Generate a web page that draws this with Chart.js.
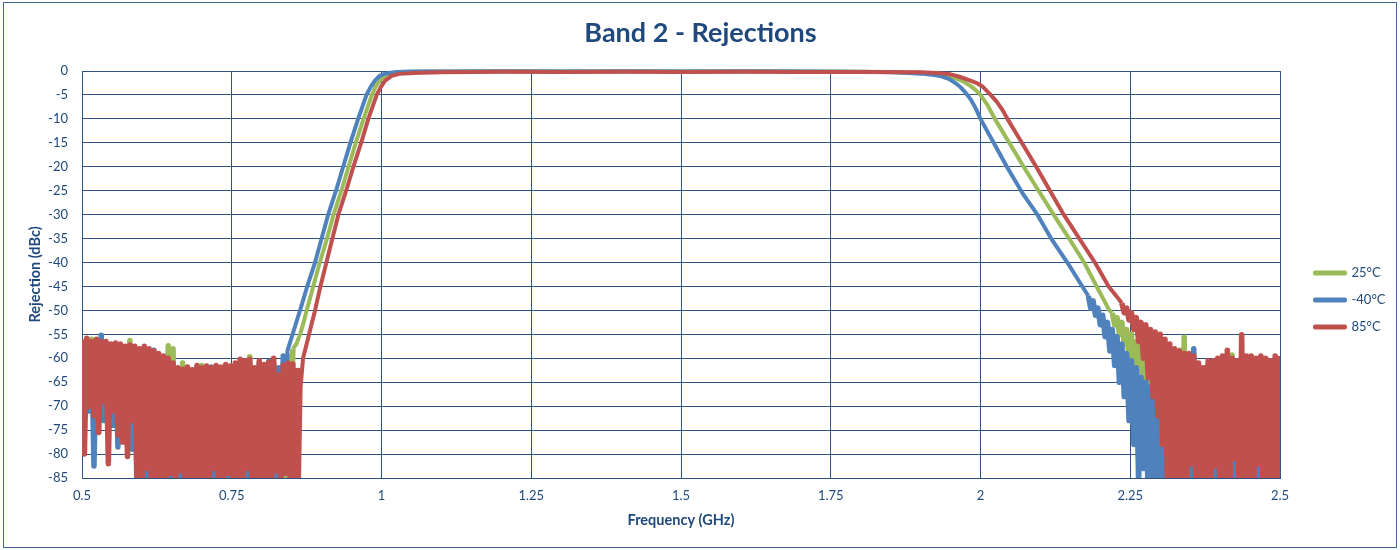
<!DOCTYPE html>
<html>
<head>
<meta charset="utf-8">
<script src="https://cdn.jsdelivr.net/npm/chart.js@4.4.1/dist/chart.umd.min.js"></script>
<style>
html,body{margin:0;padding:0;background:#ffffff;}
#wrap{width:1400px;height:550px;position:relative;}
</style>
</head>
<body>
<div id="wrap"><canvas id="c" width="1400" height="550"></canvas></div>
<script>
// ---------------- data ----------------
const chartTitle = 'Band 2 - Rejections';
const xAxisTitle = 'Frequency (GHz)';
const yAxisTitle = 'Rejection (dBc)';
const seriesNames = ['25°C', '-40°C', '85°C'];
const seriesColors = ['#9BBB59', '#4F81BD', '#C0504D'];
const xTickValues = [0.5, 0.75, 1, 1.25, 1.5, 1.75, 2, 2.25, 2.5];
const xTickLabels = ['0.5', '0.75', '1', '1.25', '1.5', '1.75', '2', '2.25', '2.5'];
const yTickValues = [0, -5, -10, -15, -20, -25, -30, -35, -40, -45, -50, -55, -60, -65, -70, -75, -80, -85];
const yTickLabels = ['0', '-5', '-10', '-15', '-20', '-25', '-30', '-35', '-40', '-45', '-50', '-55', '-60', '-65', '-70', '-75', '-80', '-85'];

// sweep of the stop bands (GHz)
const sweepStepGHz = 0.004;
const lowStopStartGHz = 0.5;

// lower stop band, sampled from 0.5 GHz every 4 MHz (dBc)
const lowStop25 = [
 -57.5,-72.5,-57,-71,-56,-73,-57,-70,-57.5,-72.5,
 -58,-74,-58,-70,-58,-74,-58.5,-72,-58,-78,
 -56.3,-76,-58.5,-84,-59,-90,-58.5,-90,-59,-90,
 -59.5,-90,-60,-90,-60.5,-90,-57.4,-90,-58,-90,
 -62.5,-90,-61,-90,-62.5,-90,-62.5,-90,-62,-90,
 -61.5,-90,-62,-90,-62.5,-90,-62,-90,-62.5,-90,
 -62,-90,-62,-90,-61.5,-90,-61,-90,-61,-90,
 -59.7,-90,-62.5,-90,-61.5,-90,-62,-90,-61.5,-90,
 -61,-90,-62.5,-90,-61,-90,-59.5,-86,-58
];
const lowStopM40 = [
 -57,-67,-57.5,-71,-57,-82.5,-57,-70,-55.2,-73,
 -57.5,-71,-58,-74,-58,-78.5,-58.5,-73,-58.5,-76,
 -59,-79,-59,-90,-59.5,-88,-59.5,-90,-59.5,-90,
 -58.3,-90,-60,-90,-60.5,-90,-61,-90,-61.5,-90,
 -62.5,-90,-62.5,-90,-62.5,-90,-62.5,-90,-62,-90,
 -62.5,-90,-62,-90,-61.8,-90,-62,-90,-62,-90,
 -61.5,-90,-62,-90,-61.5,-90,-61,-90,-61,-90,
 -61,-90,-62.5,-90,-61,-90,-62,-90,-60.6,-90,
 -62,-90,-62,-90,-59.5,-80
];
const lowStop85 = [
 -56,-80,-55.8,-70,-56.5,-72,-56,-75.5,-56.5,-69,
 -56.5,-82,-57,-71,-56.8,-76,-57,-77.5,-57.5,-80.5,
 -57.2,-73,-57.5,-86,-58,-90,-57.5,-83,-58,-90,
 -58.5,-90,-59,-90,-59.5,-90,-60,-84,-61,-90,
 -62,-83.5,-62.3,-90,-61.8,-90,-62.4,-90,-61.5,-90,
 -62,-90,-61.6,-90,-62,-83,-61.5,-90,-61.8,-90,
 -61.3,-84,-61.6,-90,-61,-90,-60.2,-90,-60.5,-83,
 -60.2,-90,-62,-90,-60.5,-90,-61.3,-90,-60.8,-90,
 -60,-83.5,-63.5,-90,-61.5,-84,-61,-90,-61.2,-90,
 -62
];

// skirts and pass band (GHz, dBc)
const band25Freq = [0.858,0.864,0.870,0.875,0.886,0.897,0.909,0.920,0.933,0.945,0.957,0.970,0.977,0.984,0.990,0.997,1.006,1.015,1.027,1.04,1.07,1.15,1.25,1.35,1.45,1.55,1.65,1.75,1.85,1.90,1.925,1.94,1.954,1.968,1.982,1.992,2.000,2.012,2.024,2.036,2.048,2.060,2.072,2.097,2.122,2.148,2.173,2.194,2.215];
const band25Db   = [-57,-55,-52.5,-50,-45,-40,-35,-30,-25,-20,-15,-10,-7.5,-5,-3.3,-2,-1,-0.6,-0.35,-0.2,-0.1,-0.08,-0.05,-0.1,-0.06,-0.08,-0.06,-0.1,-0.2,-0.35,-0.6,-0.9,-1.3,-2,-3,-4,-5,-7.2,-10,-12.5,-15,-17.5,-20,-25,-30,-35,-40,-45,-50];

const bandM40Freq = [0.843,0.848,0.856,0.864,0.876,0.889,0.900,0.911,0.924,0.936,0.948,0.961,0.968,0.975,0.982,0.989,0.997,1.005,1.015,1.026,1.05,1.10,1.20,1.30,1.40,1.50,1.60,1.70,1.80,1.85,1.88,1.90,1.92,1.935,1.948,1.958,1.966,1.972,1.978,1.985,1.992,2.000,2.011,2.022,2.033,2.044,2.070,2.095,2.118,2.145,2.170];
const bandM40Db   = [-58.4,-56.4,-53.2,-50,-45,-40,-35,-30,-25,-20,-15,-10,-7.5,-5,-3.3,-2,-1,-0.6,-0.35,-0.2,-0.1,-0.08,-0.05,-0.1,-0.05,-0.08,-0.05,-0.1,-0.15,-0.25,-0.4,-0.55,-0.8,-1.1,-1.7,-2.5,-3.3,-4.1,-5,-6.2,-7.8,-10,-12.5,-15,-17.5,-20,-25.5,-30,-35,-40,-45];

const band85Freq = [0.862,0.865,0.869,0.875,0.882,0.889,0.898,0.908,0.918,0.928,0.941,0.953,0.966,0.978,0.985,0.992,0.999,1.006,1.017,1.03,1.053,1.10,1.20,1.30,1.40,1.50,1.60,1.70,1.80,1.90,1.93,1.95,1.965,1.982,1.995,2.004,2.017,2.027,2.036,2.045,2.069,2.093,2.116,2.139,2.165,2.191,2.214,2.230];
const band85Db   = [-88,-66,-60,-57,-53.5,-50,-45,-40,-35,-30,-25,-20,-15,-10,-7.5,-5,-3.3,-2,-1,-0.6,-0.4,-0.25,-0.15,-0.2,-0.15,-0.2,-0.15,-0.2,-0.2,-0.25,-0.4,-0.7,-1.2,-1.95,-2.6,-3.3,-5,-6.4,-8,-10,-15,-20,-25,-30,-35,-40,-45,-47.5];

// upper stop band, sampled every 4 MHz from each start (dBc)
const highStop25Start = 2.220;
const highStop25 = [
 -50.5,-53,-51.5,-55,-52.5,-57,-54,-60,-55,-64,
 -56.5,-68,-57.5,-73,-58.5,-78,-59.5,-85,-60,-80,
 -60,-90,-61,-90,-61,-90,-60,-90,-58.3,-90,
 -55.6,-90,-60,-90,-61,-90,-62,-90,-62,-90,
 -61.5,-90,-61,-90,-61.5,-90,-61,-90,-60.5,-90,
 -59.3,-90,-61,-90,-61.5,-90,-62,-90,-61.5,-90,
 -62,-90,-61.5,-90,-62,-90,-62,-90,-61.5,-90,
 -62
];
const highStopM40Start = 2.180;
const highStopM40 = [
 -47,-49.5,-48,-51,-49.5,-53,-51,-55.5,-52.5,-58.5,
 -54,-61.5,-55.5,-65,-57,-68,-59,-73,-60.5,-78,
 -62,-86,-64,-83,-65,-90,-66,-88,-66.5,-90,
 -65,-90,-64,-90,-63.5,-90,-63,-90,-62.5,-90,
 -62,-90,-61,-90,-58,-90,-62,-90,-62.5,-90,
 -62,-90,-62,-90,-61.5,-90,-62,-90,-61.5,-90,
 -62,-90,-62,-90,-61,-90,-61.5,-90,-62,-90,
 -62,-90,-61.5,-90,-62,-90,-62,-90,-62,-90,
 -62
];
const highStop85Start = 2.236;
const highStop85 = [
 -48.5,-50.5,-49.5,-52,-50.5,-54,-51.5,-56.5,-52.5,-60,
 -53,-64,-54,-68,-54.5,-72,-55,-78,-56,-86,
 -57,-90,-58,-90,-58.5,-90,-59,-90,-59,-82,
 -59.5,-90,-61,-90,-62,-90,-60.5,-90,-60.5,-82.5,
 -60,-90,-59.5,-90,-58.3,-90,-60,-81,-60.5,-90,
 -55.1,-90,-59.5,-90,-59.5,-90,-60,-82,-59.5,-90,
 -60,-90,-60.5,-90,-59.5,-90,-59.5
];

// ---------------- build ----------------
function sweepPoints(start, values) {
  return values.map((v, i) => ({ x: Math.round((start + i * sweepStepGHz) * 10000) / 10000, y: v }));
}
function tablePoints(freqs, dbs) {
  return freqs.map((f, i) => ({ x: f, y: dbs[i] }));
}
const seriesParts = [
  { low: lowStop25, bf: band25Freq, bd: band25Db, hs: highStop25Start, hi: highStop25 },
  { low: lowStopM40, bf: bandM40Freq, bd: bandM40Db, hs: highStopM40Start, hi: highStopM40 },
  { low: lowStop85, bf: band85Freq, bd: band85Db, hs: highStop85Start, hi: highStop85 }
];
const drawOrder = [3, 2, 1]; // 85°C drawn on top, as in the reference

const textColor = '#1F497D';
const gridColor = '#2E5284';
Chart.defaults.font.family = "Lato, 'Open Sans', 'Noto Sans', sans-serif";
Chart.defaults.color = textColor;

const framePlugin = {
  id: 'frame',
  beforeDraw(chart) {
    const c = chart.ctx;
    c.save();
    c.fillStyle = '#ffffff';
    c.fillRect(0, 0, chart.width, chart.height);
    c.strokeStyle = '#41679A';
    c.lineWidth = 1;
    c.strokeRect(3.5, 2.5, 1393, 545);
    c.restore();
  }
};
const placeBlocksPlugin = {
  id: 'placeBlocks',
  afterLayout(chart) {
    const t = chart.titleBlock;
    if (t) { t.left += 15.5; t.right += 15.5; }
    const l = chart.legend;
    if (l) { l.left += 21; l.right += 21; l.top += 25; l.bottom += 25; }
  }
};

new Chart(document.getElementById('c'), {
  type: 'line',
  data: {
    datasets: seriesNames.map((name, i) => {
      const p = seriesParts[i];
      const lowEnd = p.low.length - 1;
      const hiStartIdx = p.low.length + p.bf.length;
      return {
        label: name,
        data: sweepPoints(lowStopStartGHz, p.low).concat(tablePoints(p.bf, p.bd), sweepPoints(p.hs, p.hi)),
        borderColor: seriesColors[i],
        backgroundColor: seriesColors[i],
        borderWidth: 4,
        borderJoinStyle: 'round',
        pointRadius: 0,
        tension: 0,
        order: drawOrder[i],
        clip: { left: 0, right: 0, top: 4, bottom: 0 },
        segment: {
          borderWidth: (ctx) => (ctx.p0DataIndex < lowEnd || ctx.p0DataIndex >= hiStartIdx) ? 5.5 : 4
        }
      };
    })
  },
  options: {
    responsive: false,
    animation: false,
    events: [],
    layout: { padding: { left: 5, right: 35, top: 5, bottom: 5 } },
    plugins: {
      title: {
        display: true,
        text: chartTitle,
        color: textColor,
        font: { size: 27, weight: 'bold' },
        padding: { top: 12, bottom: 21.6 }
      },
      legend: {
        display: true,
        position: 'right',
        maxWidth: 85,
        labels: {
          boxWidth: 30,
          boxHeight: 1,
          padding: 14,
          color: textColor,
          font: { size: 13 },
          sort: (a, b) => a.datasetIndex - b.datasetIndex
        }
      },
      tooltip: { enabled: false }
    },
    scales: {
      x: {
        type: 'linear',
        min: 0.5,
        max: 2.5,
        afterBuildTicks: (s) => { s.ticks = xTickValues.map(v => ({ value: v })); },
        afterFit: (s) => { s.height = 67; },
        ticks: { padding: 10, font: { size: 13 }, color: textColor, maxRotation: 0, autoSkip: false,
                 callback: (v, i) => xTickLabels[i] },
        grid: { color: gridColor, lineWidth: 1, drawTicks: false },
        border: { color: gridColor, width: 1 },
        title: { display: true, text: xAxisTitle, color: textColor, font: { size: 14.5, weight: 'bold' }, padding: { top: 4, bottom: 16 } }
      },
      y: {
        type: 'linear',
        min: -85,
        max: 0,
        afterBuildTicks: (s) => { s.ticks = yTickValues.map(v => ({ value: v })); },
        afterFit: (s) => { s.width = 77; },
        ticks: { padding: 14, font: { size: 13 }, color: textColor, autoSkip: false,
                 callback: (v, i) => yTickLabels[i] },
        grid: { color: gridColor, lineWidth: 1, drawTicks: false },
        border: { color: gridColor, width: 1 },
        title: { display: true, text: yAxisTitle, color: textColor, font: { size: 14.5, weight: 'bold' }, padding: { top: 22, bottom: 4 } }
      }
    }
  },
  plugins: [framePlugin, placeBlocksPlugin]
});
</script>
</body>
</html>
